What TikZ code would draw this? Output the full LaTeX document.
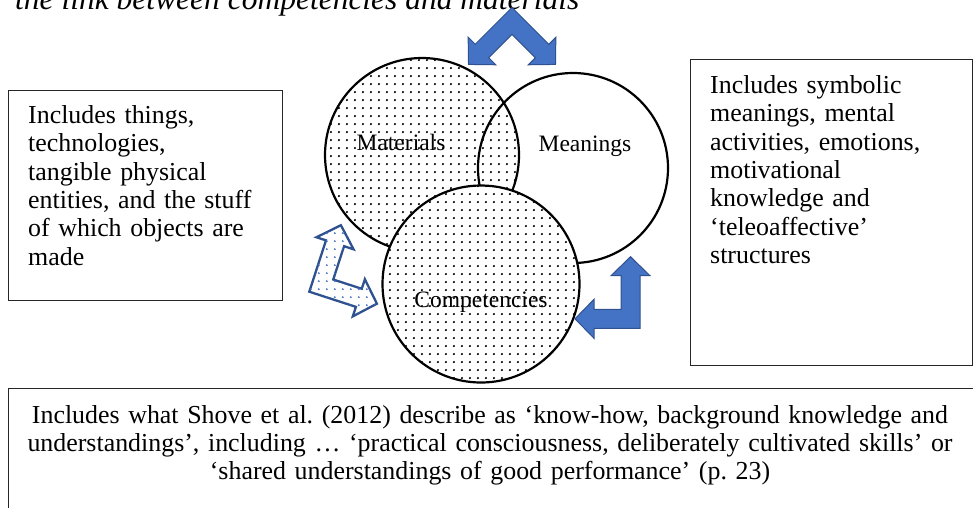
\documentclass[tikz,border=0pt]{standalone}
\usepackage{fontspec}
\setmainfont{Liberation Serif}
\usetikzlibrary{patterns.meta}
\frenchspacing

\definecolor{officeblue}{HTML}{4472C4}
\definecolor{officeedge}{HTML}{2F528F}

% black dot screen used inside the circles
\tikzdeclarepattern{
  name=fielddots,
  type=uncolored,
  bounding box={(0pt,0pt) and (8.4pt,8.4pt)},
  tile size={(8.4pt,8.4pt)},
  code={\pgfpathcircle{\pgfpoint{4.2pt}{4.2pt}}{1.25pt}\pgfusepath{fill}}
}
% sparser dot screen for the outlined arrow
\tikzdeclarepattern{
  name=arrowdots,
  type=uncolored,
  bounding box={(0pt,0pt) and (8.3pt,8.3pt)},
  tile size={(8.3pt,8.3pt)},
  code={\pgfpathcircle{\pgfpoint{4.15pt}{4.15pt}}{1.1pt}\pgfusepath{fill}}
}

\tikzset{
  venn/.style={circle, draw=black, line width=2.2pt, inner sep=0pt},
  notebox/.style={rectangle, draw=black!85, line width=1pt, inner sep=0pt, anchor=north west},
  notetext/.style={font=\fontsize{25.9}{28.4}\selectfont, align=left,
    text width=#1, inner sep=0pt, anchor=base west},
  lbl/.style={font=\fontsize{23.5}{26}\selectfont, inner sep=0pt, anchor=base},
  solidarrow/.style={fill=officeblue, draw=officeedge, line width=1pt},
  dotarrow/.style={fill=white, draw=officeedge, line width=2.3pt,
    postaction={pattern=arrowdots, pattern color=officeblue}},
  % L-shaped double arrow: outer corner at the origin, one arm to the left
  % (length #1), one arm upwards (length #2), look given by #3
  pics/bentarrow/.style n args={3}{code={
    \path[#3] (0,0) -- (0,{19-#2}) -- (10,{19-#2}) -- (-9.5,{-#2})
      -- (-29,{19-#2}) -- (-19,{19-#2}) -- (-19,-19) -- ({19-#1},-19)
      -- ({19-#1},-29) -- ({-#1},-9.5) -- ({19-#1},10) -- ({19-#1},0) -- cycle;
  }}
}

\begin{document}
\begin{tikzpicture}[x=1pt, y=-1pt]
  \path[use as bounding box, clip] (0,0) rectangle (973,507);

  % heading, cut by the top edge
  \node[anchor=base west, inner sep=0pt, font=\itshape\fontsize{31.5}{36}\selectfont]
    (heading) at (15,9) {the link between competencies and materials};

  % explanatory boxes
  \node[notebox, minimum width=274pt, minimum height=210pt] (thingbox) at (8,90) {};
  \node[notetext=250pt] (thingtext) at (28,123.3)
    {Includes things,\\technologies,\\tangible physical\\entities, and the stuff\\of which objects are\\made};

  \node[notebox, minimum width=282pt, minimum height=306pt] (symbox) at (690,59) {};
  \node[notetext=255pt] (symtext) at (710,93.3)
    {Includes symbolic\\meanings, mental\\activities, emotions,\\motivational\\knowledge and\\‘teleoaffective’\\structures};

  \node[notebox, minimum width=966pt, minimum height=150pt] (skillbox) at (8,388) {};
  \node[notetext=950pt, align=center, anchor=base] (skilltext) at (490,423)
    {Includes what Shove et al. (2012) describe as ‘know-how, background knowledge and\\
     understandings’, including … ‘practical consciousness, deliberately cultivated skills’ or\\
     ‘shared understandings of good performance’ (p.~23)};

  % the three elements
  \node[venn, minimum size=194pt, pattern=fielddots, pattern color=black] (materials) at (422,155) {};
  \node[venn, minimum size=190pt] (meanings) at (573,168) {};
  \node[venn, minimum size=197pt, fill=white,
        postaction={pattern=fielddots, pattern color=black}] (competencies) at (481,284) {};

  % links between the elements
  \pic[rotate=135] (linktop) at (512,7.5) {bentarrow={71}{71}{solidarrow}};
  \pic (linkright) at (640,328.3) {bentarrow={65}{71.6}{solidarrow}};
  \pic[rotate=-18, xscale=-1] (linkleft) at (309.3,291.7) {bentarrow={68}{73}{dotarrow}};

  % element names
  \node[lbl] (materialsname) at (401,150) {Materials};
  \node[lbl] (meaningsname) at (585,151) {Meanings};
  \node[lbl] (competenciesname) at (481,307) {Competencies};
\end{tikzpicture}
\end{document}
